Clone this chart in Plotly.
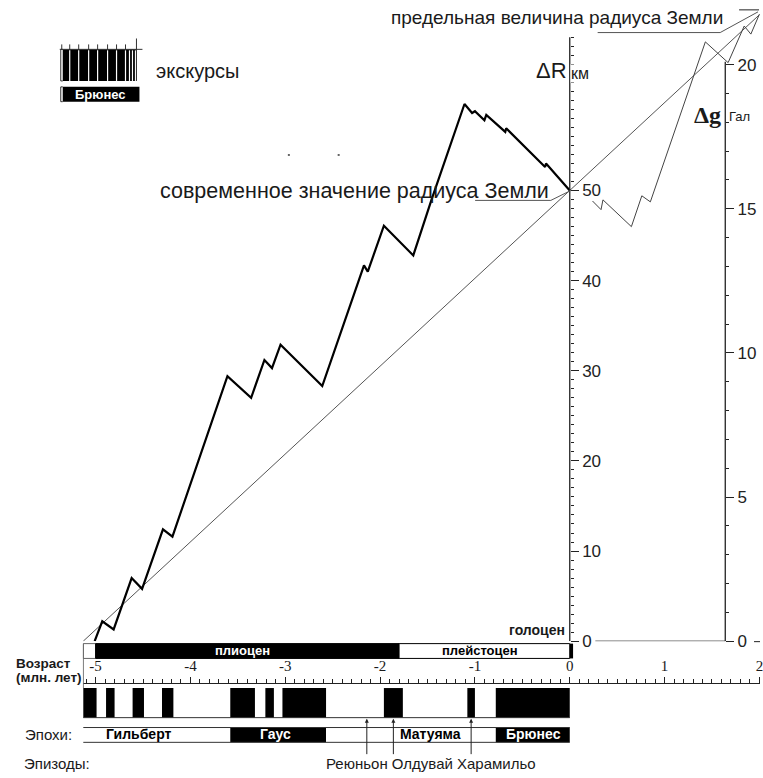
import plotly.graph_objects as go

W, H = 763, 778

# ---- data -------------------------------------------------------------
# growth of the Earth radius, ΔR (km) against age (Ma)
age_r = [-5.01, -4.93, -4.81, -4.62, -4.51, -4.29, -4.19, -3.61, -3.36, -3.22,
         -3.14, -3.05, -2.61, -2.17, -2.13, -1.96, -1.65, -1.46, -1.11, -1.03,
         -1.00, -0.90, -0.88, -0.68, -0.67, -0.26, -0.25, 0.0]
dR = [0.0, 2.2, 1.3, 7.0, 5.8, 12.4, 11.6, 29.4, 27.0, 31.2,
      30.3, 32.9, 28.3, 41.7, 41.0, 46.1, 42.8, 48.9, 59.6, 58.6,
      58.8, 57.8, 58.4, 56.5, 56.9, 52.6, 53.0, 50.0]

# uniform growth line
age_lin = [-5.13, 0.0, 2.0]
dR_lin = [0.0, 50.0, 69.5]

# gravity change, Δg (Gal), forecast part
age_g = [0.24, 0.33, 0.35, 0.65, 0.76, 0.85, 1.43, 1.67, 1.84, 1.91, 2.0]
dg = [15.27, 14.97, 15.31, 14.38, 15.45, 15.24, 20.79, 20.07, 21.34, 21.06, 21.75]

# magnetic polarity scale: normal-polarity intervals (Ma)
polarity_normal = [(-5.13, -4.99), (-4.89, -4.80), (-4.61, -4.49), (-4.30, -4.18),
                   (-3.58, -3.32), (-3.21, -3.12), (-3.03, -2.57), (-1.96, -1.76),
                   (-1.08, -1.00), (-0.78, 0.0)]

# magnetic epochs
epochs = ["Гильберт", "Гаус", "Матуяма", "Брюнес"]
epoch_start = [-5.13, -3.58, -2.57, -0.78]
epoch_end = [-3.58, -2.57, -0.78, 0.0]
epoch_black = [False, True, False, True]
epoch_label_age = [-4.55, -3.10, -1.47, -0.38]

# geological periods
periods = ["плиоцен", "плейстоцен"]
period_start = [-5.0, -1.8]
period_end = [-1.8, 0.0]
period_black = [True, False]
period_label_age = [-3.45, -0.95]

# episodes
episode_age = [-2.14, -1.86, -1.04]
episode_text = "Реюньон Олдувай Харамильо"

age_ticks = [-5, -4, -3, -2, -1, 0, 1, 2]
age_ticktext = ["-5", "-4", "-3", "-2", "-1", "0", "1", "2"]
dR_ticks = [0, 10, 20, 30, 40, 50, 60]
dR_ticktext = ["0", "10", "20", "30", "40", "50", ""]
dg_ticks = [0, 5, 10, 15, 20]

# ---- helpers ------------------------------------------------------------
def px(x):
    return x / W


def py(y):
    return 1 - y / H


SANS = "Liberation Sans"
SERIF = "Liberation Serif"
INK = "#1a1a1a"

fig = go.Figure()

fig.add_trace(go.Scatter(x=age_lin, y=dR_lin, mode="lines",
                         line=dict(color="#555", width=1), hoverinfo="skip"))
fig.add_trace(go.Scatter(x=age_r, y=dR, mode="lines",
                         line=dict(color="#000", width=2.2), hoverinfo="skip"))
fig.add_trace(go.Scatter(x=age_g, y=dg, mode="lines", yaxis="y2",
                         line=dict(color="#444", width=1), hoverinfo="skip"))

shapes = []
# ΔR axis line and Δg axis line
shapes.append(dict(type="line", xref="x", yref="y", x0=0, x1=0, y0=0, y1=67,
                   line=dict(color="#222", width=1.3)))
shapes.append(dict(type="line", xref="x", yref="y2", x0=1.64, x1=1.64, y0=0, y1=20.1,
                   line=dict(color="#222", width=1.3)))
# baseline between the two vertical axes
shapes.append(dict(type="line", xref="x", yref="y", x0=0.27, x1=1.64, y0=0, y1=0,
                   line=dict(color="#222", width=1)))
shapes.append(dict(type="line", xref="paper", yref="paper", x0=px(757), x1=px(763),
                   y0=py(650), y1=py(650), line=dict(color="#222", width=1)))

# geological periods bar
y_pt, y_pb = py(652), py(667)
shapes.append(dict(type="rect", xref="x", yref="paper", x0=-5.13, x1=-5.0, y0=y_pb, y1=y_pt,
                   line=dict(color="#666", width=1), fillcolor="white"))
for s, e, b in zip(period_start, period_end, period_black):
    shapes.append(dict(type="rect", xref="x", yref="paper", x0=s, x1=e, y0=y_pb, y1=y_pt,
                       line=dict(color="#000", width=1),
                       fillcolor="#000" if b else "white"))
shapes.append(dict(type="rect", xref="x", yref="paper", x0=0, x1=0.035, y0=y_pb, y1=y_pt,
                   line=dict(width=0), fillcolor="#000"))
shapes.append(dict(type="line", xref="x", yref="paper", x0=-5.13, x1=-5.13,
                   y0=py(697), y1=y_pt, line=dict(color="#666", width=1)))

# polarity bar
y_mt, y_mb = py(697), py(727)
for s, e in polarity_normal:
    shapes.append(dict(type="rect", xref="x", yref="paper", x0=s, x1=e, y0=y_mb, y1=y_mt,
                       line=dict(width=0), fillcolor="#000"))
shapes.append(dict(type="line", xref="x", yref="paper", x0=-5.13, x1=0, y0=y_mb, y1=y_mb,
                   line=dict(color="#333", width=1)))

# epochs bar
y_et, y_eb = py(737), py(752)
for s, e, b in zip(epoch_start, epoch_end, epoch_black):
    shapes.append(dict(type="rect", xref="x", yref="paper", x0=s, x1=e, y0=y_eb, y1=y_et,
                       line=dict(width=0), fillcolor="#000" if b else "white"))
for yy in (y_et, y_eb):
    shapes.append(dict(type="line", xref="x", yref="paper", x0=-5.13, x1=0, y0=yy, y1=yy,
                       line=dict(color="#333", width=1)))

# leader lines of the callouts
shapes.append(dict(type="path", xref="paper", yref="paper",
                   path=f"M {px(477)},{py(203)} L {px(553)},{py(203)} L {px(573)},{py(193)}",
                   line=dict(color="#555", width=1)))
shapes.append(dict(type="path", xref="paper", yref="paper",
                   path=f"M {px(600)},{py(33)} L {px(723)},{py(33)} L {px(761)},{py(12)}",
                   line=dict(color="#555", width=1)))
shapes.append(dict(type="line", xref="paper", yref="paper", x0=px(742), x1=px(762),
                   y0=py(10), y1=py(10), line=dict(color="#222", width=1)))

# legend symbol for excursions
shapes.append(dict(type="rect", xref="paper", yref="paper", x0=px(63), x1=px(137),
                   y0=py(82), y1=py(50), line=dict(width=0), fillcolor="#000"))
for gx in [70, 79, 89, 98, 108, 117, 126, 130, 133, 136]:
    shapes.append(dict(type="line", xref="paper", yref="paper", x0=px(gx), x1=px(gx),
                       y0=py(82), y1=py(51), line=dict(color="white", width=1.2)))
shapes.append(dict(type="line", xref="paper", yref="paper", x0=px(60), x1=px(143),
                   y0=py(50), y1=py(50), line=dict(color="#333", width=1)))
for tx in [62, 70, 79, 89, 98, 108, 117, 126]:
    shapes.append(dict(type="line", xref="paper", yref="paper", x0=px(tx), x1=px(tx),
                       y0=py(50), y1=py(45), line=dict(color="#333", width=1)))
shapes.append(dict(type="line", xref="paper", yref="paper", x0=px(137), x1=px(137),
                   y0=py(82), y1=py(39), line=dict(color="#333", width=1)))
shapes.append(dict(type="path", xref="paper", yref="paper",
                   path=f"M {px(63)},{py(50)} L {px(61)},{py(50)} L {px(61)},{py(82)} L {px(63)},{py(82)}",
                   line=dict(color="#333", width=1)))
shapes.append(dict(type="rect", xref="paper", yref="paper", x0=px(63), x1=px(140),
                   y0=py(103), y1=py(88), line=dict(width=0), fillcolor="#000"))
shapes.append(dict(type="path", xref="paper", yref="paper",
                   path=f"M {px(63)},{py(88)} L {px(61)},{py(88)} L {px(61)},{py(103)} L {px(63)},{py(103)}",
                   line=dict(color="#333", width=1)))
# two small dashes
for dx in (289, 339):
    shapes.append(dict(type="line", xref="paper", yref="paper", x0=px(dx), x1=px(dx + 2),
                       y0=py(157), y1=py(157), line=dict(color="#333", width=1.5)))

ann = []


def label(text, x, y, size=15, color=INK, family=SANS, xanchor="center", bold=False,
          xref="paper", bg=None):
    t = f"<b>{text}</b>" if bold else text
    d = dict(text=t, x=x, y=py(y), xref=xref, yref="paper", xanchor=xanchor,
             yanchor="middle", showarrow=False,
             font=dict(family=family, size=size, color=color))
    if bg:
        d["bgcolor"] = bg
        d["borderpad"] = 0
    ann.append(d)


label("экскурсы", px(155), 72, size=20, xanchor="left")
label("Брюнес", px(101), 96, size=13, color="white", bold=True)
label("предельная величина радиуса Земли", px(728), 18, size=19, xanchor="right")
label("современное значение радиуса Земли", px(553), 193, size=21.5, xanchor="right")
label("ΔR", px(571), 71, size=22, xanchor="right")
label("км", px(572), 74, size=16, xanchor="left", bg="white")
label("Δg", px(726), 116, size=24, family=SERIF, xanchor="right", bold=True)
label("Гал", px(730), 118, size=13, xanchor="left")
label("голоцен", px(569), 638, size=14, xanchor="right", bold=True)
for name, a, b in zip(periods, period_label_age, period_black):
    label(name, a, 658.5, size=13, color="white" if b else "#000", bold=True, xref="x")
label("Возраст", px(14), 672, size=13.5, xanchor="left", bold=True)
label("(млн. лет)", px(14), 686, size=13.5, xanchor="left", bold=True)
label("Эпохи:", px(23), 744, size=15, xanchor="left")
for name, a, b in zip(epochs, epoch_label_age, epoch_black):
    label(name, a, 744, size=14, color="white" if b else "#000", bold=True, xref="x")
label("Эпизоды:", px(22), 773, size=15, xanchor="left")
label(episode_text, px(325), 773, size=15, xanchor="left")

for a in episode_age:
    ann.append(dict(x=a, y=py(728), xref="x", yref="paper", text="", showarrow=True,
                    ax=0, ay=37, arrowhead=2, arrowsize=0.8, arrowwidth=1,
                    arrowcolor="#222"))

x_left = -(572 - 83) / 95.2
x_right = (763 - 572) / 95.2

fig.update_layout(
    width=W, height=H, autosize=False,
    margin=dict(l=0, r=0, t=0, b=0),
    paper_bgcolor="white", plot_bgcolor="rgba(0,0,0,0)",
    showlegend=False,
    shapes=shapes,
    annotations=ann,
    xaxis=dict(domain=[83 / W, 1], range=[x_left, x_right], anchor="free",
               position=1 - 692 / H, side="top",
               showline=True, linecolor="#222", linewidth=1,
               tickmode="array", tickvals=age_ticks, ticktext=age_ticktext,
               ticks="outside", ticklen=6, tickcolor="#222",
               ticklabeloverflow="allow",
               tickfont=dict(family=SERIF, size=15, color=INK),
               minor=dict(dtick=0.1, ticklen=4, ticks="outside", tickcolor="#222"),
               showgrid=False, zeroline=False, fixedrange=True),
    yaxis=dict(domain=[1 - 649.5 / H, 1], range=[0, 649.5 / 9.13], anchor="free",
               position=572 / W, side="right", showline=False,
               tickmode="array", tickvals=dR_ticks, ticktext=dR_ticktext,
               ticks="outside", ticklen=8, tickcolor="#222",
               tickfont=dict(family=SANS, size=17, color="#222"),
               minor=dict(tickmode="array", tickvals=list(range(0, 68)), ticklen=3,
                          ticks="outside", tickcolor="#222"),
               showgrid=False, zeroline=False, fixedrange=True),
    yaxis2=dict(overlaying="y", range=[0, 649.5 / 29.2], anchor="free",
                position=728 / W, side="right", showline=False,
                tickmode="array", tickvals=dg_ticks,
                ticks="outside", ticklen=8, tickcolor="#222",
                tickfont=dict(family=SANS, size=17, color="#222"),
                minor=dict(tickmode="array", tickvals=list(range(0, 21)), ticklen=3,
                           ticks="outside", tickcolor="#222"),
                showgrid=False, zeroline=False, fixedrange=True),
)

# page without body margins
page_js = ("document.documentElement.style.margin='0';"
           "document.body.style.margin='0';"
           "document.body.style.padding='0';")

fig.write_html("out.html", config={"responsive": False}, post_script=page_js)
